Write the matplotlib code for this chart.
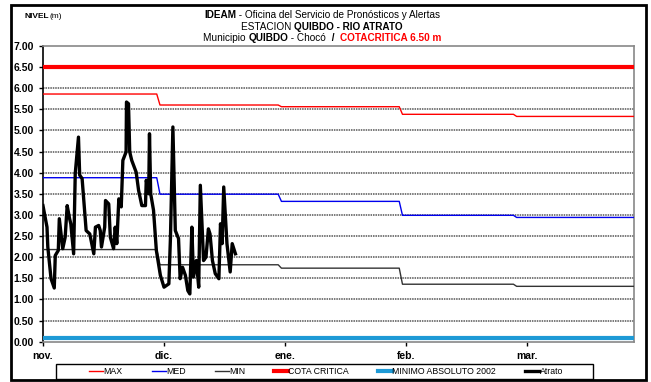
import matplotlib
matplotlib.use("Agg")
import matplotlib.pyplot as plt
from matplotlib.patches import Rectangle
import numpy as np

plt.rcParams['font.family'] = ['Liberation Sans Narrow', 'Liberation Sans', 'DejaVu Sans']

# Datos: dias contados desde el 1 de noviembre
meses = ["nov.", "dic.", "ene.", "feb.", "mar."]
dias_meses = [0, 30, 60, 90, 120]
dia_final = 146.5

# cambios de nivel de referencia mensual (dia en que empieza el cambio)
cambios = [28.2, 58.3, 88.3, 116.6]
nivel_max = [5.86, 5.60, 5.56, 5.38, 5.33]
nivel_med = [3.88, 3.49, 3.32, 2.99, 2.94]
nivel_min = [2.18, 1.82, 1.74, 1.36, 1.31]
cota_critica = 6.50
minimo_absoluto = 0.08

# lecturas del rio Atrato
dias_atrato = [0, 1, 1.2, 2, 2.8, 3.05, 3.8, 4.05, 4.9, 5.5, 6, 6.6, 6.9, 7.6,
               8, 8.8, 9.1, 9.7, 10.7, 11.6, 12.6, 13, 13.8, 14.2, 14.5, 15.3,
               15.5, 16.3, 16.7, 17.5, 17.9, 18.3, 18.8, 19.4, 19.8, 20.6, 20.7,
               21.2, 21.5, 22, 23.1, 23.7, 24.5, 25.4, 25.6, 26.2, 26.4, 26.7,
               27.4, 28.1, 29.1, 30, 31.2, 31.6, 32.2, 32.8, 33.6, 34, 34.6,
               35.3, 35.9, 36.4, 36.9, 37.3, 38, 38.6, 39, 39.8, 40.4, 41, 41.4,
               42, 42.7, 43.6, 44, 44.4, 44.8, 45.6, 46.4, 46.9, 47.7]
nivel_atrato = [3.22, 2.71, 2.24, 1.49, 1.27, 2.04, 2.16, 2.91, 2.20, 2.47,
                3.22, 2.91, 2.79, 2.08, 3.98, 4.84, 3.94, 3.86, 2.63, 2.55,
                2.08, 2.71, 2.75, 2.63, 2.24, 2.71, 3.34, 3.26, 2.47, 2.20,
                2.71, 2.32, 3.38, 3.19, 4.29, 4.49, 5.67, 5.63, 4.49, 4.29,
                4.01, 3.58, 3.22, 3.22, 3.82, 3.50, 4.92, 3.50, 3.11, 2.16,
                1.57, 1.29, 1.37, 2.47, 5.08, 2.63, 2.44, 1.49, 1.76, 1.57,
                1.21, 1.13, 2.71, 1.53, 1.92, 1.29, 3.70, 1.92, 2.00, 2.67,
                2.55, 1.92, 1.61, 1.49, 2.79, 2.32, 3.66, 2.32, 1.65, 2.32,
                2.08]


def escalones(valores):
    # cada cambio de nivel tarda ~0.8 dias en la grafica
    xs, ys = [0], [valores[0]]
    for c, antes, despues in zip(cambios, valores[:-1], valores[1:]):
        xs += [c, c + 0.8]
        ys += [antes, despues]
    xs.append(dia_final)
    ys.append(valores[-1])
    return xs, ys


fig = plt.figure(figsize=(6.51, 3.82), dpi=100)
ax = fig.add_axes([0.066, 0.1055, 0.908, 0.7745])

for v in np.arange(0.5, 7.0, 0.5):
    ax.axhline(v, color="#555555", lw=1.1, dashes=(1, 0.6), zorder=1)

ax.plot(*escalones(nivel_max), color="#ff0000", lw=1.0, label="MAX", zorder=3)
ax.plot(*escalones(nivel_med), color="#0000ee", lw=1.0, label="MED", zorder=3)
ax.plot(*escalones(nivel_min), color="#333333", lw=1.0, label="MIN", zorder=3)
ax.plot([0, dia_final], [cota_critica] * 2, color="#ff0000", lw=3, label="COTA CRITICA", zorder=3)
ax.plot([0, dia_final], [minimo_absoluto] * 2, color="#1e9ad6", lw=3,
        label="MINIMO ABSOLUTO 2002", zorder=3)
ax.plot(dias_atrato, nivel_atrato, color="black", lw=2.4, label="Atrato",
        solid_joinstyle="round", zorder=4)

ax.set_xlim(0, dia_final)
ax.set_ylim(0, 7)
ax.set_yticks(np.arange(0, 7.01, 0.5))
ax.set_yticklabels([f"{v:.2f}" for v in np.arange(0, 7.01, 0.5)],
                   fontsize=7.5, fontweight="bold")
ax.set_xticks(dias_meses)
ax.set_xticklabels(meses, fontsize=7.5, fontweight="bold")
ax.tick_params(axis="y", length=3, width=1, pad=3.5)
ax.tick_params(axis="x", length=3, width=1, pad=4)
ax.spines["left"].set_color("black")
ax.spines["left"].set_linewidth(1.2)
ax.spines["bottom"].set_color("#888888")
ax.spines["bottom"].set_linewidth(1.2)
for s in ("top", "right"):
    ax.spines[s].set_color("#888888")
    ax.spines[s].set_linewidth(1.2)

# leyenda sin marco propio, la caja se dibuja aparte
leg = fig.legend(loc="center left", bbox_to_anchor=(0.137, 0.0275), ncol=6,
                 fontsize=6.3, frameon=False, handlelength=1.6,
                 handletextpad=0.05, columnspacing=3.3, borderpad=0, borderaxespad=0)
fig.patches.append(Rectangle((56 / 651, 1 - 379 / 382), 537 / 651, 15 / 382,
                             transform=fig.transFigure, fill=False,
                             edgecolor="black", lw=1.0))

# marco exterior
fig.patches.append(Rectangle((0.017, 0.004), 0.975, 0.983, transform=fig.transFigure,
                             fill=False, edgecolor="black", lw=2.0))


def linea_mixta(y, partes, centro=0.495, size=7.2):
    r = fig.canvas.get_renderer()
    textos = []
    for s, peso, color in partes:
        textos.append(fig.text(0, y, s, fontsize=size, fontweight=peso, color=color,
                               va="baseline"))
    anchos = [t.get_window_extent(r).width / fig.bbox.width for t in textos]
    x = centro - sum(anchos) / 2
    for t, w in zip(textos, anchos):
        t.set_x(x)
        x += w


linea_mixta(0.953, [("IDEAM", "bold", "black"),
                    (" - Oficina del Servicio de Pronósticos y Alertas", "normal", "black")])
linea_mixta(0.922, [("ESTACION ", "normal", "black"),
                    ("QUIBDO - RIO ATRATO", "bold", "black")])
linea_mixta(0.892, [("Municipio ", "normal", "black"), ("QUIBDO", "bold", "black"),
                    (" - Chocó ", "normal", "black"), (" /  ", "bold", "black"),
                    ("COTACRITICA 6.50 m", "bold", "#ff0000")])
fig.text(0.038, 0.953, "NIVEL", fontsize=6, fontweight="bold", va="baseline")
fig.text(0.076, 0.953, "(m)", fontsize=6, va="baseline")

fig.savefig("out.png", dpi=100)
